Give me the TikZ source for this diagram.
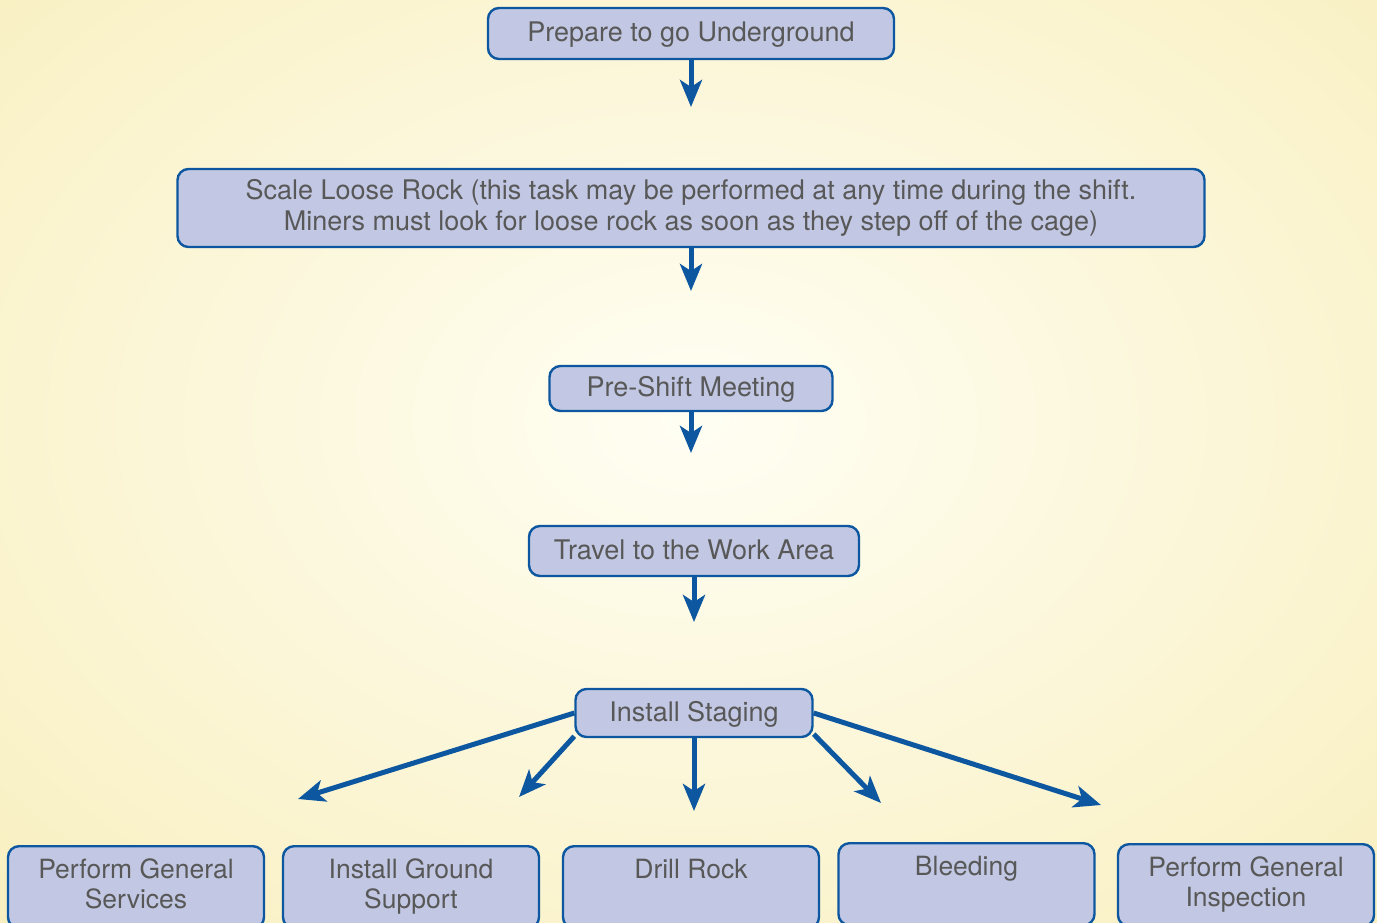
\documentclass[tikz,border=0pt]{standalone}
\usepackage{fontspec}
\setmainfont{TeX Gyre Heros}
\usetikzlibrary{arrows.meta,positioning}
\definecolor{glowin}{HTML}{FFFEF3}
\definecolor{glowout}{HTML}{F5E8A6}
\definecolor{boxfill}{HTML}{C2C8E3}
\definecolor{boxline}{HTML}{0D57A1}
\definecolor{boxtext}{HTML}{585858}
\tikzset{
  boxbase/.style={rounded corners=11pt, draw=boxline, line width=2.4pt, fill=boxfill,
  text=boxtext, font=\fontsize{27}{31}\selectfont, inner sep=0pt
  },
  task/.style={boxbase, align=center},
  oneline/.style={text height=19pt, text depth=3pt},
  leaf/.style={boxbase, anchor=north, minimum width=256pt, inner ysep=11pt,
  font=\fontsize{26.5}{30}\selectfont},
  flow/.style={draw=boxline, line width=5pt, -{Stealth[length=27pt, width=22pt, inset=7pt]}},
}
\newcommand{\leaftext}[1]{\parbox[t][60pt][t]{250pt}{\centering\strut#1}}

\begin{document}
\begin{tikzpicture}[x=1pt, y=-1pt]

\useasboundingbox (0,0) rectangle (1377,922);

% Background glow
\begin{scope}
  \clip (0,0) rectangle (1377,922);
  \shade[inner color=glowin, outer color=glowout] (695,420) ellipse [x radius=1500, y radius=1050];
\end{scope}

% Main chain
\node[task, oneline, minimum width=406pt, minimum height=51pt] (prep) at (691,33.5) {Prepare to go Underground};
\node[task, minimum width=1027pt, minimum height=78pt] (scale) at (691,208) {
  Scale Loose Rock (this task may be performed at any time during the shift.\\
  Miners must look for loose rock as soon as they step off of the cage)
};
\node[task, oneline, minimum width=283pt, minimum height=45pt] (meeting) at (691,388.5) {Pre-Shift Meeting};
\node[task, oneline, minimum width=330pt, minimum height=50pt] (travel) at (694,551) {Travel to the Work Area};
\node[task, oneline, minimum width=237pt, minimum height=48pt] (staging) at (694,713) {Install Staging};

% Bottom row
\node[leaf] (services) at (136,845) {\leaftext{Perform General\\Services}};
\node[leaf] (ground) at (411,845) {\leaftext{Install Ground\\Support}};
\node[leaf] (drill) at (691,845) {\leaftext{Drill Rock}};
\node[leaf] (bleed) at (966.5,842) {\leaftext{Bleeding}};
\node[leaf] (inspect) at (1246,843) {\leaftext{Perform General\\Inspection}};

% Arrow ends (they stop short of the boxes)
\coordinate (scaleIn) at (prep.south |- 0,107);
\coordinate (meetIn) at (scale.south |- 0,291);
\coordinate (travelIn) at (meeting.south |- 0,453);
\coordinate (stageIn) at (travel.south |- 0,622);
\coordinate (servicesIn) at (298,799);
\coordinate (groundIn) at (519,797);
\coordinate (drillIn) at (staging.south |- 0,811);
\coordinate (bleedIn) at (881,803);
\coordinate (inspectIn) at (1101,805);

\draw[flow] (prep.south) -- (scaleIn);
\draw[flow] (scale.south) -- (meetIn);
\draw[flow] (meeting.south) -- (travelIn);
\draw[flow] (travel.south) -- (stageIn);

\draw[flow] (staging.west) -- (servicesIn);
\draw[flow] (staging.191) -- (groundIn);
\draw[flow] (staging.south) -- (drillIn);
\draw[flow] (staging.-10) -- (bleedIn);
\draw[flow] (staging.east) -- (inspectIn);

\end{tikzpicture}
\end{document}
